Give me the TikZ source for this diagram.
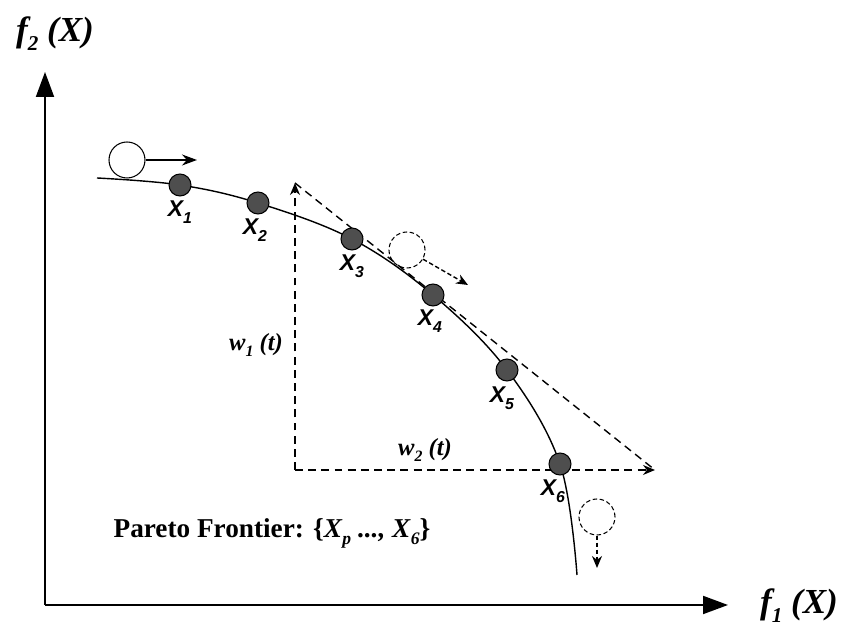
\documentclass[tikz,border=0pt]{standalone}
\usepackage{fontspec}
\setmainfont{Liberation Serif}
\setsansfont{Liberation Sans}
\usetikzlibrary{arrows.meta,positioning}
\definecolor{DotGray}{RGB}{78,78,78}
\newcommand{\lowidx}[2][8]{\raisebox{-0.55ex}{\fontsize{#1}{#1}\selectfont #2}}

\begin{document}
\begin{tikzpicture}[
  dot/.style={circle,draw=black,fill=DotGray,line width=0.6pt,minimum size=0.44cm,inner sep=0pt},
  ball/.style={circle,draw=black,fill=white,line width=0.6pt,minimum size=0.72cm,inner sep=0pt},
  ghost/.style={circle,draw=black,line width=0.6pt,dash pattern=on 2.5pt off 1.5pt,
                minimum size=0.72cm,inner sep=0pt},
  xlab/.style={font=\sffamily\bfseries\itshape\fontsize{13}{13}\selectfont,inner sep=1pt},
  wlab/.style={font=\bfseries\itshape\fontsize{14}{14}\selectfont},
  flab/.style={font=\bfseries\itshape\fontsize{20}{20}\selectfont},
  axis/.style={line width=1.1pt,-{Triangle[length=0.5cm,width=0.36cm]}},
  guide/.style={line width=0.8pt,dash pattern=on 4.5pt off 3pt,-{Stealth[length=0.24cm,width=0.2cm]}},
]
\useasboundingbox (0,0) rectangle (16.96,12.62);
\coordinate (o)    at (0.9,0.52);
\coordinate (ytop) at (0.9,11.18);
\coordinate (xend) at (14.56,0.52);
\draw[axis] (o) -- (ytop);
\draw[axis] (o) -- (xend);
\node[flab] (f2) at (1.1,11.95) {f\lowidx[12]{2} (X)};
\node[flab] (f1) at (15.98,0.5) {f\lowidx[12]{1} (X)};

\coordinate (c0) at (1.94,9.06);
\coordinate (p1) at (3.6,8.92);
\coordinate (p2) at (5.16,8.56);
\coordinate (p3) at (7.04,7.84);
\coordinate (p4) at (8.66,6.72);
\coordinate (p5) at (10.14,5.22);
\coordinate (p6) at (11.2,3.34);
\coordinate (c7) at (11.54,1.12);
\draw[line width=0.8pt] plot[smooth,tension=0.6] coordinates {(c0) (p1) (p2) (p3) (p4) (p5) (p6) (c7)};

\coordinate (corner) at (5.9,3.22);
\coordinate (vtip)   at (5.9,8.96);
\coordinate (htip)   at (13.1,3.22);
\draw[guide] (corner) -- (vtip);
\draw[guide] (corner) -- (htip);
\draw[guide,-] (vtip) -- (htip);

\node[dot] (x1) at (p1) {};
\node[dot] (x2) at (p2) {};
\node[dot] (x3) at (p3) {};
\node[dot] (x4) at (p4) {};
\node[dot] (x5) at (p5) {};
\node[dot] (x6) at (p6) {};
\node[xlab,below=0.05cm of x1] (l1) {X\lowidx[9]{1}};
\node[xlab,below=0.05cm of x2,xshift=-0.06cm] (l2) {X\lowidx[9]{2}};
\node[xlab,below=0.05cm of x3] (l3) {X\lowidx[9]{3}};
\node[xlab,below=0.03cm of x4,xshift=-0.06cm] (l4) {X\lowidx[9]{4}};
\node[xlab,below=0.07cm of x5,xshift=-0.1cm] (l5) {X\lowidx[9]{5}};
\node[xlab,below=0.05cm of x6,xshift=-0.14cm] (l6) {X\lowidx[9]{6}};

\node[ball] (b0) at (2.54,9.42) {};
\coordinate (b0to) at (3.94,9.42);
\draw[line width=0.8pt,-{Stealth[length=0.3cm,width=0.22cm]}] (b0) -- (b0to);
\node[ghost] (b1) at (8.14,7.62) {};
\coordinate (b1to) at (9.36,6.92);
\draw[guide,dash pattern=on 2.5pt off 1.5pt] (b1) -- (b1to);
\node[ghost] (b2) at (11.94,2.28) {};
\coordinate (b2to) at (11.94,1.26);
\draw[guide,dash pattern=on 2.5pt off 1.5pt] (b2) -- (b2to);

\node[wlab] (w1) at (5.12,5.72) {w\lowidx[9]{1} (t)};
\node[wlab] (w2) at (8.5,3.62)  {w\lowidx[9]{2} (t)};
\node[font=\bfseries\fontsize{15.5}{16}\selectfont] (pf) at (5.44,1.96)
  {Pareto Frontier: \{\textit{X}\lowidx[10]{\textit{p}} \textit{...,} \textit{X}\lowidx[10]{\textit{6}}\}};
\end{tikzpicture}
\end{document}
